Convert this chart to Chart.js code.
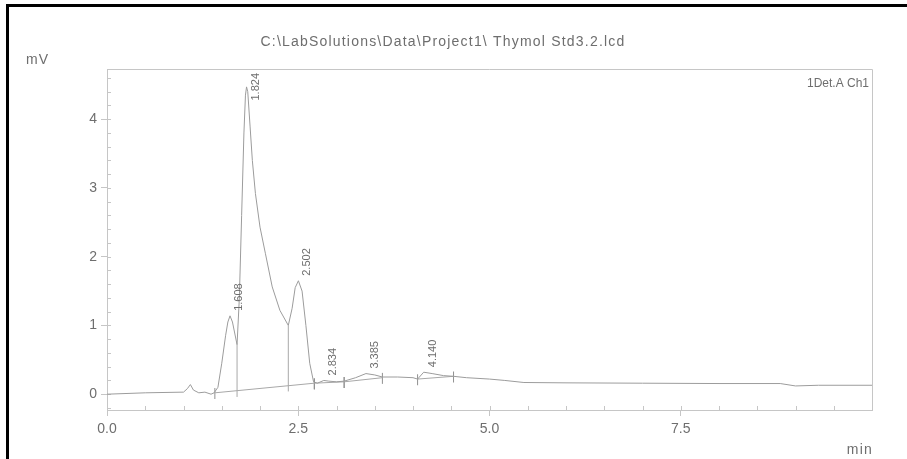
<!DOCTYPE html>
<html>
<head>
<meta charset="utf-8">
<script src="https://cdn.jsdelivr.net/npm/chart.js@4.4.0/dist/chart.umd.min.js"></script>
<style>
  html, body { margin: 0; padding: 0; background: #fff; }
  #wrap { position: relative; width: 907px; height: 459px; overflow: hidden; }
  #frame { position: absolute; left: 6px; top: 4px; right: -10px; bottom: -10px;
           border-left: 3px solid #000; border-top: 3px solid #000; pointer-events: none; }
  canvas { position: absolute; left: 0; top: 0; }
</style>
</head>
<body>
<div id="wrap">
  <canvas id="chrom" width="907" height="459"></canvas>
  <div id="frame"></div>
</div>
<script>
// Detector trace: retention time (min) and signal (mV)
const traceTime = [0.00, 0.50, 1.00, 1.05, 1.09, 1.13, 1.20, 1.28, 1.36, 1.40,
                   1.45, 1.50, 1.55, 1.58, 1.608, 1.64, 1.70, 1.73, 1.76, 1.79,
                   1.81, 1.824, 1.84, 1.87, 1.90, 1.94, 2.00, 2.07, 2.16, 2.26,
                   2.37, 2.42, 2.46, 2.502, 2.55, 2.60, 2.65, 2.70, 2.75, 2.834,
                   2.90, 3.00, 3.10, 3.25, 3.385, 3.50, 3.60, 3.80, 4.00, 4.06,
                   4.14, 4.25, 4.40, 4.53, 4.70, 5.00, 5.20, 5.45, 6.00, 7.00,
                   8.00, 8.80, 9.00, 9.30, 10.00];
const traceMv   = [0.00, 0.02, 0.03, 0.08, 0.14, 0.06, 0.02, 0.03, 0.00, 0.02,
                   0.10, 0.45, 0.85, 1.05, 1.14, 1.05, 0.72, 1.40, 2.60, 3.80,
                   4.35, 4.47, 4.40, 3.90, 3.40, 2.92, 2.43, 2.05, 1.56, 1.22,
                   1.00, 1.25, 1.55, 1.65, 1.50, 1.00, 0.45, 0.18, 0.16, 0.20,
                   0.19, 0.18, 0.19, 0.24, 0.30, 0.28, 0.25, 0.25, 0.24, 0.22,
                   0.32, 0.30, 0.27, 0.26, 0.24, 0.22, 0.20, 0.17, 0.165, 0.16,
                   0.155, 0.155, 0.12, 0.13, 0.13];

// Integrated peaks: retention times and apex heights
const peakTimes = [1.608, 1.824, 2.502, 2.834, 3.385, 4.140];
const peakMv    = [1.14, 4.47, 1.65, 0.20, 0.30, 0.32];

// Integration baselines (start/end of each segment)
const baseStartTime = [1.41, 2.71, 3.10, 4.06];
const baseStartMv   = [0.02, 0.16, 0.18, 0.22];
const baseEndTime   = [2.71, 3.10, 3.60, 4.53];
const baseEndMv     = [0.16, 0.18, 0.24, 0.26];

// Perpendicular drops between fused peaks
const dropTime  = [1.70, 2.37];
const dropTopMv = [0.72, 1.00];
const dropBaseMv = [0.06, 0.14];

// Axis ticks
const xTicks = [0, 2.5, 5.0, 7.5];
const yTicks = [0, 1, 2, 3, 4];

const GREY = '#9c9c9c';
const AXIS = '#c6c6c6';
const TEXT = '#6e6e6e';
const FONT = 'Liberation Sans';

const tracePts = traceTime.map((t, i) => ({ x: t, y: traceMv[i] }));

const basePts = [];
baseStartTime.forEach((t, i) => {
  basePts.push({ x: t, y: baseStartMv[i] }, { x: baseEndTime[i], y: baseEndMv[i] }, { x: baseEndTime[i], y: null });
});

const dropPts = [];
dropTime.forEach((t, i) => {
  dropPts.push({ x: t, y: dropBaseMv[i] - 0.1 }, { x: t, y: dropTopMv[i] }, { x: t, y: null });
});

// short marks at each peak boundary
const markPts = [];
baseStartTime.concat(baseEndTime).forEach((t, i) => {
  const v = i < baseStartTime.length ? baseStartMv[i] : baseEndMv[i - baseStartTime.length];
  markPts.push({ x: t, y: v - 0.09 }, { x: t, y: v + 0.07 }, { x: t, y: null });
});

const frameAndMinor = {
  id: 'frameAndMinor',
  beforeDatasetsDraw(chart) {
    const { ctx, chartArea: a, scales: { x, y } } = chart;
    ctx.save();
    ctx.strokeStyle = AXIS;
    ctx.lineWidth = 1;
    ctx.beginPath();
    ctx.moveTo(a.left, a.top + 0.5); ctx.lineTo(a.right + 0.5, a.top + 0.5);
    ctx.lineTo(a.right + 0.5, a.bottom);
    ctx.stroke();
    ctx.beginPath();
    for (let t = 0.5; t < 10; t += 0.5) {
      const px = Math.round(x.getPixelForValue(t)) + 0.5;
      ctx.moveTo(px, a.bottom); ctx.lineTo(px, a.bottom - 4);
    }
    for (let v = -0.2; v < 4.7; v += 0.2) {
      const py = Math.round(y.getPixelForValue(v)) + 0.5;
      ctx.moveTo(a.left, py); ctx.lineTo(a.left + 4, py);
    }
    ctx.stroke();
    ctx.restore();
  },
  afterDatasetsDraw(chart) {
    const { ctx, chartArea: a, scales: { x, y } } = chart;
    ctx.save();
    ctx.fillStyle = TEXT;
    ctx.font = `11px "${FONT}"`;
    peakTimes.forEach((t, i) => {
      const label = t.toFixed(3);
      const w = ctx.measureText(label).width;
      const px = x.getPixelForValue(t) + 9;
      let py = y.getPixelForValue(peakMv[i]) - 5;
      if (py - w < a.top + 4) py = a.top + 4 + w;
      ctx.save();
      ctx.translate(px, py);
      ctx.rotate(-Math.PI / 2);
      ctx.textAlign = 'left';
      ctx.textBaseline = 'middle';
      ctx.fillText(label, 0, 0);
      ctx.restore();
    });
    ctx.textBaseline = 'middle';
    ctx.font = `14px "${FONT}"`;
    ctx.letterSpacing = '1.2px';
    ctx.textAlign = 'center';
    ctx.fillText('C:\\LabSolutions\\Data\\Project1\\ Thymol Std3.2.lcd', 443, 42);
    ctx.textAlign = 'left';
    ctx.fillText('mV', 26, 60);
    ctx.textAlign = 'right';
    ctx.fillText('min', 873, 450);
    ctx.letterSpacing = '0px';
    ctx.font = `12px "${FONT}"`;
    ctx.fillText('1Det.A Ch1', a.right - 3, 84);
    ctx.restore();
  }
};

const lineDs = (data, color) => ({
  data, borderColor: color, borderWidth: 1, pointRadius: 0,
  tension: 0, spanGaps: false, fill: false
});

new Chart(document.getElementById('chrom'), {
  type: 'line',
  data: {
    datasets: [
      lineDs(tracePts, GREY),
      lineDs(basePts, '#a8a8a8'),
      lineDs(dropPts, '#a8a8a8'),
      lineDs(markPts, '#909090')
    ]
  },
  options: {
    responsive: false,
    animation: false,
    parsing: true,
    layout: { padding: { left: 40, top: 69, right: 35, bottom: 10 } },
    plugins: { legend: { display: false }, tooltip: { enabled: false }, title: { display: false } },
    scales: {
      x: {
        type: 'linear', min: 0, max: 10,
        afterBuildTicks: s => { s.ticks = xTicks.map(v => ({ value: v })); },
        afterFit: s => { s.height = 39; },
        ticks: { callback: v => Number(v).toFixed(1), color: TEXT, font: { family: FONT, size: 14 },
                 padding: 5, maxRotation: 0, autoSkip: false },
        grid: { drawOnChartArea: false, tickLength: 6, color: AXIS },
        border: { color: AXIS }
      },
      y: {
        type: 'linear', min: -0.23, max: 4.73,
        afterBuildTicks: s => { s.ticks = yTicks.map(v => ({ value: v })); },
        afterFit: s => { s.width = 67; },
        ticks: { callback: v => String(v), color: TEXT, font: { family: FONT, size: 14 }, padding: 4 },
        grid: { drawOnChartArea: false, tickLength: 6, color: AXIS },
        border: { color: AXIS }
      }
    }
  },
  plugins: [frameAndMinor]
});
</script>
</body>
</html>
